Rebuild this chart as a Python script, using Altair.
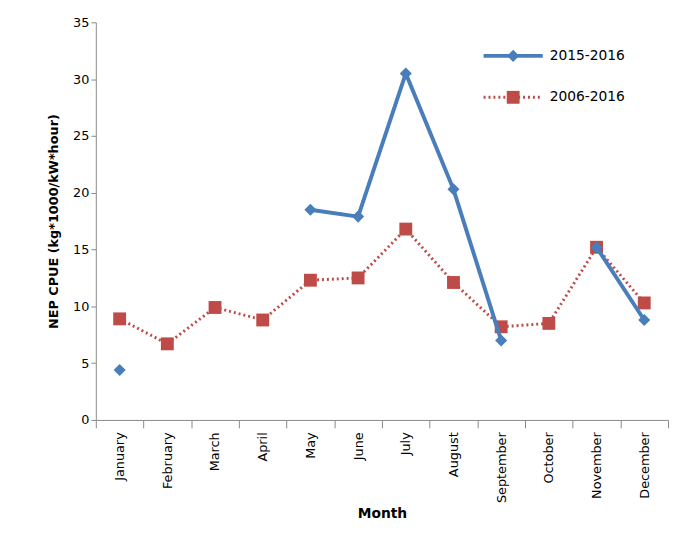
import altair as alt
import pandas as pd

months = ["January", "February", "March", "April", "May", "June", "July",
          "August", "September", "October", "November", "December"]
cpue_2015 = [4.4, None, None, None, 18.5, 17.9, 30.5, 20.3, 7.0, None, 15.2, 8.8]
seg_2015 = [1, 0, 0, 0, 2, 2, 2, 2, 2, 0, 3, 3]
cpue_2006 = [8.9, 6.7, 9.9, 8.8, 12.3, 12.5, 16.8, 12.1, 8.2, 8.5, 15.2, 10.3]

blue = "#4a7ebb"
red = "#be4b48"
font = "DejaVu Sans"

d15 = pd.DataFrame({"Month": months, "v": cpue_2015, "seg": seg_2015}).dropna()
d06 = pd.DataFrame({"Month": months, "v": cpue_2006})

x = alt.X("Month:N", sort=months,
          scale=alt.Scale(type="band", paddingInner=0, paddingOuter=0),
          axis=alt.Axis(title="Month", labelAngle=-90, tickBand="extent",
                        titleFontWeight="bold", titleFontSize=14, labelFontSize=13,
                        labelPadding=4, tickSize=8))
y = alt.Y("v:Q", scale=alt.Scale(domain=[0, 35]),
          axis=alt.Axis(title="NEP CPUE (kg*1000/kW*hour)", values=list(range(0, 36, 5)),
                        titleFontWeight="bold", titleFontSize=13, labelFontSize=13,
                        grid=False, tickSize=5, titlePadding=12))

l06 = alt.Chart(d06).mark_line(color=red, strokeDash=[2, 3], strokeWidth=3).encode(x=x, y=y)
p06 = alt.Chart(d06).mark_point(shape="square", filled=True, size=170, color=red, opacity=1).encode(x=x, y=y)
l15 = alt.Chart(d15).mark_line(color=blue, strokeWidth=4).encode(x=x, y=y, detail="seg:N")
p15 = alt.Chart(d15).mark_point(shape="diamond", filled=True, size=150, color=blue, opacity=1).encode(x=x, y=y)

leg = pd.DataFrame({"i": [0]})
lg = alt.Chart(leg)
legend = (
    lg.mark_rule(color=blue, strokeWidth=4).encode(x=alt.value(393), x2=alt.value(453), y=alt.value(34))
    + lg.mark_point(shape="diamond", filled=True, size=150, color=blue, opacity=1).encode(x=alt.value(423), y=alt.value(34))
    + lg.mark_text(text="2015-2016", align="left", fontSize=14, font=font).encode(x=alt.value(460), y=alt.value(34))
    + lg.mark_rule(color=red, strokeWidth=3, strokeDash=[2, 3]).encode(x=alt.value(393), x2=alt.value(453), y=alt.value(76))
    + lg.mark_point(shape="square", filled=True, size=170, color=red, opacity=1).encode(x=alt.value(423), y=alt.value(76))
    + lg.mark_text(text="2006-2016", align="left", fontSize=14, font=font).encode(x=alt.value(460), y=alt.value(76))
)

chart = (l06 + p06 + l15 + p15 + legend).properties(
    width=580, height=403, padding={"left": 40, "top": 5, "right": 5, "bottom": 5}
).configure(font=font).configure_view(stroke=None).configure_axis(
    domainColor="#888", tickColor="#888", labelColor="#000", titleColor="#000"
)

chart.save("out.html", embed_options={"renderer": "svg", "actions": False})
